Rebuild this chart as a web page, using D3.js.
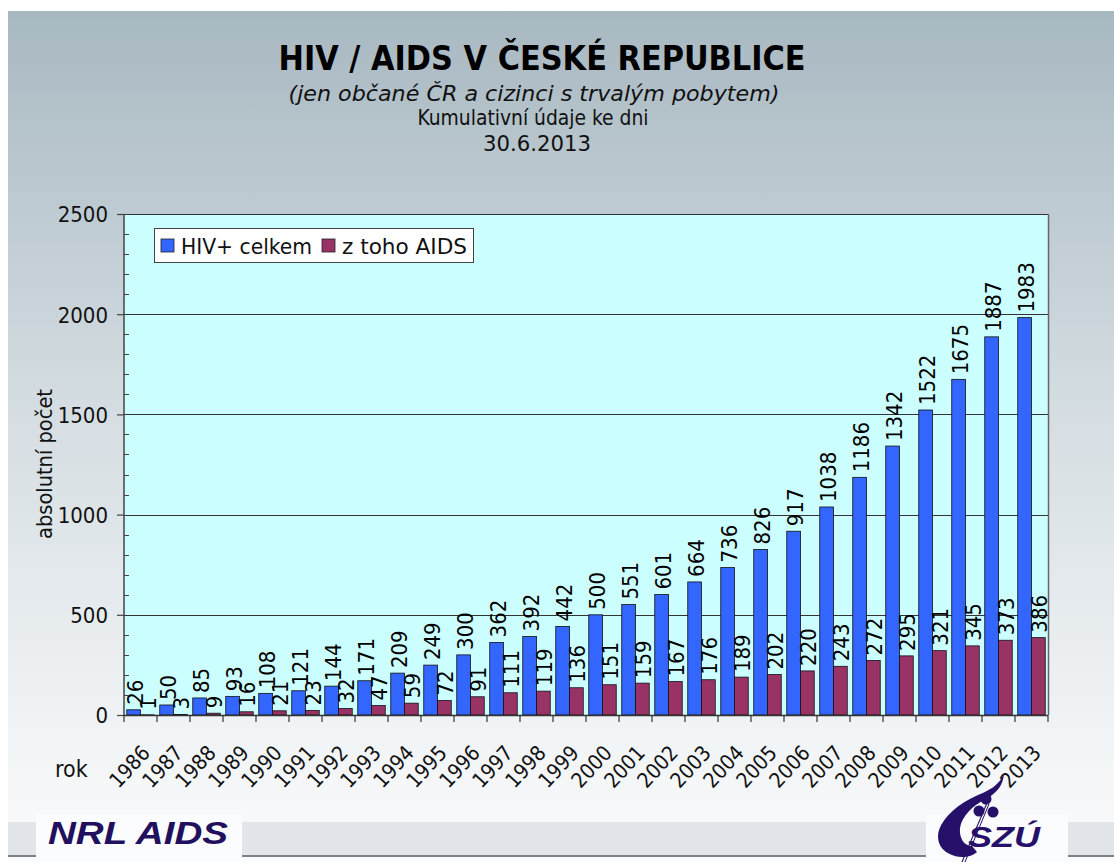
<!DOCTYPE html>
<html><head><meta charset="utf-8">
<script src="https://cdn.jsdelivr.net/npm/d3@7"></script>
<style>html,body{margin:0;padding:0;background:#fff;overflow:hidden}</style>
</head><body>
<script>
const years = ["1986","1987","1988","1989","1990","1991","1992","1993","1994","1995","1996","1997","1998","1999","2000","2001","2002","2003","2004","2005","2006","2007","2008","2009","2010","2011","2012","2013"];
const hivTotal = [26,50,85,93,108,121,144,171,209,249,300,362,392,442,500,551,601,664,736,826,917,1038,1186,1342,1522,1675,1887,1983];
const aidsTotal = [1,3,9,16,21,23,32,47,59,72,91,111,119,136,151,159,167,176,189,202,220,243,272,295,321,345,373,386];
const seriesNames = ["HIV+ celkem","z toho AIDS"];
const yTicks = [0,500,1000,1500,2000,2500];

const W = 1114, H = 862;
const svg = d3.select("body").append("svg").attr("width", W).attr("height", H);
const defs = svg.append("defs");
const g1 = defs.append("linearGradient").attr("id","bg").attr("x1",0).attr("y1",0).attr("x2",0).attr("y2",1);
g1.append("stop").attr("offset","0%").attr("stop-color","#a8b8c1");
g1.append("stop").attr("offset","45%").attr("stop-color","#d3dce1");
g1.append("stop").attr("offset","85%").attr("stop-color","#f1f4f6");
g1.append("stop").attr("offset","100%").attr("stop-color","#fafbfc");

svg.append("rect").attr("width",W).attr("height",H).attr("fill","#fff");
svg.append("rect").attr("x",8).attr("y",11).attr("width",W-8).attr("height",H-11).attr("fill","url(#bg)");

const fontMain = "'DejaVu Sans', Verdana, sans-serif";
const fontCond = "'DejaVu Sans Condensed', 'DejaVu Sans', sans-serif";
svg.append("text").attr("x",542).attr("y",70).attr("text-anchor","middle")
  .attr("font-family",fontMain).attr("font-weight","bold").attr("font-size",33)
  .attr("textLength",527).attr("lengthAdjust","spacingAndGlyphs").attr("fill","#000")
  .text("HIV / AIDS V ČESKÉ REPUBLICE");
svg.append("text").attr("x",534).attr("y",101).attr("text-anchor","middle")
  .attr("font-family",fontCond).attr("font-style","italic").attr("font-size",22)
  .attr("textLength",491).attr("lengthAdjust","spacingAndGlyphs").attr("fill","#111")
  .text("(jen občané ČR a cizinci s trvalým pobytem)");
svg.append("text").attr("x",533).attr("y",125).attr("text-anchor","middle")
  .attr("font-family",fontCond).attr("font-size",22)
  .attr("textLength",231).attr("lengthAdjust","spacingAndGlyphs").attr("fill","#111")
  .text("Kumulativní údaje ke dni");
svg.append("text").attr("x",537).attr("y",151).attr("text-anchor","middle")
  .attr("font-family",fontCond).attr("font-size",22)
  .attr("textLength",108).attr("lengthAdjust","spacingAndGlyphs").attr("fill","#111")
  .text("30.6.2013");

const x = d3.scaleBand().domain(years).range([124,1048]).paddingInner(0).paddingOuter(0);
const xs = d3.scaleBand().domain(["hiv","aids"]).range([0,x.bandwidth()]).paddingInner(0).paddingOuter(0.2);
const y = d3.scaleLinear().domain([0,2500]).range([715,214]);

svg.append("rect").attr("x",124).attr("y",y(2500)).attr("width",1048-124).attr("height",y(0)-y(2500))
  .attr("fill","#ccffff");
svg.append("g").selectAll("line").data(yTicks.filter(d=>d>0)).join("line")
  .attr("x1",124).attr("x2",1048).attr("y1",d=>Math.round(y(d))+0.5).attr("y2",d=>Math.round(y(d))+0.5)
  .attr("stroke","#333").attr("stroke-width",1);
svg.append("line").attr("x1",1048.5).attr("x2",1048.5).attr("y1",y(2500)).attr("y2",y(0)).attr("stroke","#666").attr("stroke-width",1.5);

const data = years.map((yr,i)=>({yr, hiv:hivTotal[i], aids:aidsTotal[i]}));
const bg = svg.append("g");
bg.selectAll("rect.hiv").data(data).join("rect").attr("class","hiv")
  .attr("x",d=>x(d.yr)+xs("hiv")).attr("width",xs.bandwidth())
  .attr("y",d=>y(d.hiv)).attr("height",d=>y(0)-y(d.hiv))
  .attr("fill","#3366ff").attr("stroke","#111").attr("stroke-width",0.8);
bg.selectAll("rect.aids").data(data).join("rect").attr("class","aids")
  .attr("x",d=>x(d.yr)+xs("aids")).attr("width",xs.bandwidth())
  .attr("y",d=>y(d.aids)).attr("height",d=>y(0)-y(d.aids))
  .attr("fill","#993366").attr("stroke","#111").attr("stroke-width",0.8);

const lab = svg.append("g").attr("font-family",fontCond).attr("font-size",22).attr("fill","#000");
lab.selectAll("text.h").data(data).join("text").attr("class","h")
  .attr("transform",d=>`translate(${x(d.yr)+xs("hiv")+xs.bandwidth()/2+1},${y(d.hiv)-5}) rotate(-90)`)
  .attr("dy","0.36em").text(d=>d.hiv);
lab.selectAll("text.a").data(data).join("text").attr("class","a")
  .attr("transform",d=>`translate(${x(d.yr)+xs("aids")+xs.bandwidth()/2+1},${y(d.aids)-5}) rotate(-90)`)
  .attr("dy","0.36em").text(d=>d.aids);

const yAxis = d3.axisLeft(y).tickValues(yTicks).tickSize(7).tickPadding(9).tickFormat(d3.format("d"));
const ya = svg.append("g").attr("transform","translate(124,0)").call(yAxis);
ya.select(".domain").attr("stroke","#444").attr("stroke-width",1.5).attr("d",`M0,${y(2500)}V${y(0)}`);
ya.selectAll(".tick line").attr("stroke","#444").attr("stroke-width",1.2);
ya.selectAll(".tick text").attr("font-family",fontCond).attr("font-size",22).attr("fill","#111").attr("dy","0.36em");
const minor = d3.range(100,2500,100).filter(d=>d%500!==0);
svg.append("g").selectAll("line").data(minor).join("line")
  .attr("x1",124).attr("x2",129).attr("y1",d=>Math.round(y(d))+0.5).attr("y2",d=>Math.round(y(d))+0.5)
  .attr("stroke","#444").attr("stroke-width",1);

svg.append("line").attr("x1",124).attr("x2",1048).attr("y1",y(0)+0.5).attr("y2",y(0)+0.5).attr("stroke","#333").attr("stroke-width",1.5);
const bounds = years.map(yr=>x(yr)).concat([1048]);
svg.append("g").selectAll("line").data(bounds).join("line")
  .attr("x1",d=>d).attr("x2",d=>d).attr("y1",y(0)).attr("y2",y(0)+7)
  .attr("stroke","#333").attr("stroke-width",1.2);
svg.append("g").attr("font-family",fontCond).attr("font-size",21).attr("fill","#111")
  .selectAll("text").data(years).join("text")
  .attr("text-anchor","end")
  .attr("transform",d=>`translate(${x(d)+x.bandwidth()/2},${744}) rotate(-47)`)
  .attr("dy","0.7em").text(d=>d);
svg.append("text").attr("x",55).attr("y",777).attr("font-family",fontCond).attr("font-size",23).attr("fill","#111").text("rok");

svg.append("text").attr("transform","translate(52,464) rotate(-90)").attr("text-anchor","middle")
  .attr("font-family",fontCond).attr("font-size",21).attr("textLength",150).attr("lengthAdjust","spacingAndGlyphs")
  .attr("fill","#111").text("absolutní počet");

const lg = svg.append("g");
lg.append("rect").attr("x",154.5).attr("y",228.5).attr("width",319).attr("height",34).attr("fill","#fff").attr("stroke","#444").attr("stroke-width",1);
const legItems = [{n:seriesNames[0],c:"#3366ff",x:161,w:131},{n:seriesNames[1],c:"#993366",x:322,w:125}];
legItems.forEach(it=>{
  lg.append("rect").attr("x",it.x).attr("y",239).attr("width",13).attr("height",13).attr("fill",it.c).attr("stroke","#222").attr("stroke-width",0.8);
  lg.append("text").attr("x",it.x+20).attr("y",254).attr("font-family",fontCond).attr("font-size",22)
    .attr("textLength",it.w).attr("lengthAdjust","spacingAndGlyphs").attr("fill","#111").text(it.n);
});

const fb = svg.append("g");
fb.append("rect").attr("x",8).attr("y",822).attr("width",W-8).attr("height",34).attr("fill","#e2e5ea");
fb.append("rect").attr("x",8).attr("y",855).attr("width",W-8).attr("height",2).attr("fill","#7d8088");
fb.append("rect").attr("x",36).attr("y",815).attr("width",206).attr("height",47).attr("fill","#fbfcfd");
fb.append("rect").attr("x",926).attr("y",815).attr("width",142).attr("height",47).attr("fill","#fbfcfd");
fb.append("text").attr("x",48).attr("y",844).attr("font-family","'Liberation Sans', Arial, sans-serif")
  .attr("font-weight","bold").attr("font-style","italic").attr("font-size",31)
  .attr("textLength",180).attr("lengthAdjust","spacingAndGlyphs").attr("fill","#22105f").text("NRL AIDS");

const navy = "#26106a";
const logo = svg.append("g").attr("fill",navy);
logo.append("path").attr("d","M1004,774 C998,786 990,790 978,795 C958,804 944,816 939,830 C935,844 944,856 962,857 C968,857 974,855 977,852 L972,846 C964,846 959,838 960,828 C962,816 972,806 986,799 C997,793 1003,785 1004,774 Z");
logo.append("circle").attr("cx",986).attr("cy",799).attr("r",5.5);
logo.append("circle").attr("cx",979).attr("cy",811).attr("r",5.5);
logo.append("circle").attr("cx",993).attr("cy",812).attr("r",5.5);
svg.append("line").attr("x1",987).attr("y1",803).attr("x2",962).attr("y2",862).attr("stroke",navy).attr("stroke-width",1.1);
svg.append("line").attr("x1",989).attr("y1",804).attr("x2",965).attr("y2",862).attr("stroke",navy).attr("stroke-width",1);
logo.append("text").attr("x",968).attr("y",847).attr("font-family","'Liberation Sans', Arial, sans-serif")
  .attr("font-weight","bold").attr("font-style","italic").attr("font-size",30)
  .attr("textLength",72).attr("lengthAdjust","spacingAndGlyphs").text("SZÚ");
</script>
</body></html>
